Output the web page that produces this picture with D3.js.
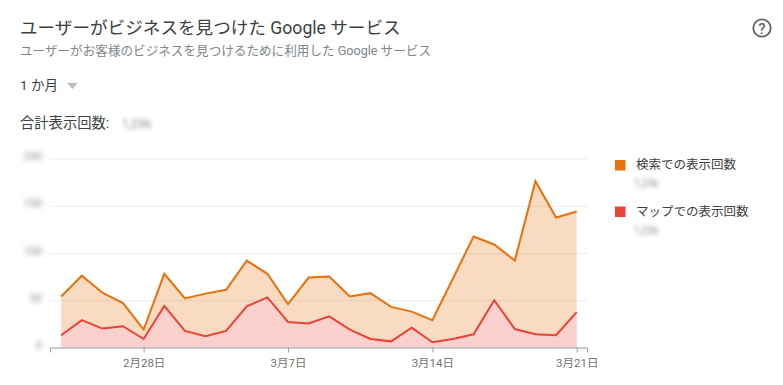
<!DOCTYPE html>
<html lang="ja">
<head>
<meta charset="utf-8">
<script src="https://cdn.jsdelivr.net/npm/d3@7"></script>
<style>
    html, body { margin: 0; padding: 0; background: #fff; }
    svg { display: block; }
    text { font-family: Roboto, "Noto Sans CJK JP", sans-serif; }
    .blurred { filter: blur(2.2px); }
    .grid line { stroke: #ececec; }
    .x-axis path, .x-axis line { stroke: #9e9e9e; }
    .x-axis text { font-size: 11.5px; fill: #757575; }
    .y-axis text { font-size: 11px; fill: #8a8a8a; filter: blur(2.4px); }
</style>
</head>
<body>
<div id="chart"></div>
<script>
// Values, the y labels and totals are blurred in the original
const startDate = new Date(2021, 1, 24);
const searchValues = [54, 76, 58, 47, 19, 78, 52, 57, 61, 92, 78, 46, 74, 75, 54, 57.5, 43, 38, 29, 73, 117.5, 109, 92, 176, 137.5, 144];
const mapValues = [13, 29, 20, 22.5, 9, 44, 17.5, 12, 17.5, 43.5, 53, 27, 25.5, 33, 19, 9, 6.5, 21, 5.5, 9, 14, 50, 19.5, 14, 13, 37.5];
const yTicks = [0, 50, 100, 150, 200];
const xTicks = [new Date(2021, 1, 28), new Date(2021, 2, 7), new Date(2021, 2, 14), new Date(2021, 2, 21)];
const legendLabels = ['検索での表示回数', 'マップでの表示回数'];
const legendColors = ['#e8710a', '#ea4335'];
const blurredTotal = '1,236';

const width = 783;
const height = 385;
const margin = { top: 158.5, right: 196, bottom: 37.5, left: 50 };

const dates = searchValues.map((_, i) => d3.timeDay.offset(startDate, i));
const rows = dates.map((date, i) => ({ date, search: searchValues[i], map: mapValues[i] }));

const svg = d3.select('#chart')
    .append('svg')
    .attr('width', width)
    .attr('height', height);

// Header
svg.append('text').attr('x', 20).attr('y', 34)
    .attr('font-size', 17.6).attr('fill', '#3c4043')
    .text('ユーザーがビジネスを見つけた Google サービス');
svg.append('text').attr('x', 20).attr('y', 55)
    .attr('font-size', 12.6).attr('fill', '#80868b')
    .text('ユーザーがお客様のビジネスを見つけるために利用した Google サービス');
svg.append('text').attr('x', 20).attr('y', 90)
    .attr('font-size', 13.5).attr('fill', '#3c4043')
    .text('1 か月');
svg.append('path')
    .attr('d', d3.line()([[67, 83], [78, 83], [72.5, 89]]) + 'Z')
    .attr('fill', '#bdbdbd');
svg.append('text').attr('x', 20).attr('y', 128)
    .attr('font-size', 14.3).attr('fill', '#3c4043')
    .text('合計表示回数:');
svg.append('text').attr('class', 'blurred').attr('x', 122).attr('y', 128)
    .attr('font-size', 12).attr('fill', '#8a8a8a')
    .text(blurredTotal);

// Help icon
svg.append('circle').attr('cx', 762).attr('cy', 28).attr('r', 8.7)
    .attr('fill', 'none').attr('stroke', '#5f6368').attr('stroke-width', 1.8);
svg.append('text').attr('x', 762).attr('y', 33.5)
    .attr('text-anchor', 'middle').attr('font-size', 15).attr('font-weight', 500)
    .attr('fill', '#5f6368').text('?');

// Scales
const x = d3.scaleTime()
    .domain([d3.timeHour.offset(startDate, -13), d3.timeHour.offset(dates[dates.length - 1], 12)])
    .range([margin.left, width - margin.right]);

const y = d3.scaleLinear()
    .domain([0, 200])
    .range([height - margin.bottom, margin.top]);

// Gridlines and y labels
const yAxis = svg.append('g')
    .attr('class', 'grid y-axis')
    .attr('transform', `translate(${margin.left},0)`)
    .call(d3.axisLeft(y).tickValues(yTicks).tickSize(0).tickPadding(8));
yAxis.select('.domain').remove();
yAxis.selectAll('.tick text').attr('dy', '0.1em');
yAxis.selectAll('.tick')
    .append('line')
    .attr('x2', width - margin.right - margin.left);

// Areas, orange sits on top of the red one
const searchArea = d3.area()
    .x(d => x(d.date))
    .y0(d => y(d.map))
    .y1(d => y(d.search));
const mapArea = d3.area()
    .x(d => x(d.date))
    .y0(y(0))
    .y1(d => y(d.map));

svg.append('path').datum(rows)
    .attr('d', searchArea)
    .attr('fill', legendColors[0])
    .attr('fill-opacity', 0.25);
svg.append('path').datum(rows)
    .attr('d', mapArea)
    .attr('fill', legendColors[1])
    .attr('fill-opacity', 0.25);

// Lines
const lineFor = key => d3.line().x(d => x(d.date)).y(d => y(d[key]));
['search', 'map'].forEach((key, i) => {
    svg.append('path').datum(rows)
        .attr('d', lineFor(key))
        .attr('fill', 'none')
        .attr('stroke', legendColors[i])
        .attr('stroke-width', 2);
});

// X-axis
svg.append('g')
    .attr('class', 'x-axis')
    .attr('transform', `translate(0,${height - margin.bottom})`)
    .call(d3.axisBottom(x)
        .tickValues(xTicks)
        .tickSizeOuter(0)
        .tickSize(5)
        .tickPadding(6)
        .tickFormat(d => `${d.getMonth() + 1}月${d.getDate()}日`));

// Legend
const legend = svg.selectAll('.legend-item')
    .data(legendLabels)
    .enter()
    .append('g')
    .attr('class', 'legend-item')
    .attr('transform', (d, i) => `translate(615,${159 + i * 46.5})`);

legend.append('rect')
    .attr('y', 1)
    .attr('width', 10.5)
    .attr('height', 10.5)
    .attr('fill', (d, i) => legendColors[i]);
legend.append('text')
    .attr('x', 21)
    .attr('y', 10)
    .attr('font-size', 12.5)
    .attr('fill', '#3c4043')
    .text(d => d);
legend.append('text')
    .attr('class', 'blurred')
    .attr('x', 19)
    .attr('y', 28)
    .attr('font-size', 10)
    .attr('fill', '#8a8a8a')
    .text(blurredTotal);
</script>
</body>
</html>
